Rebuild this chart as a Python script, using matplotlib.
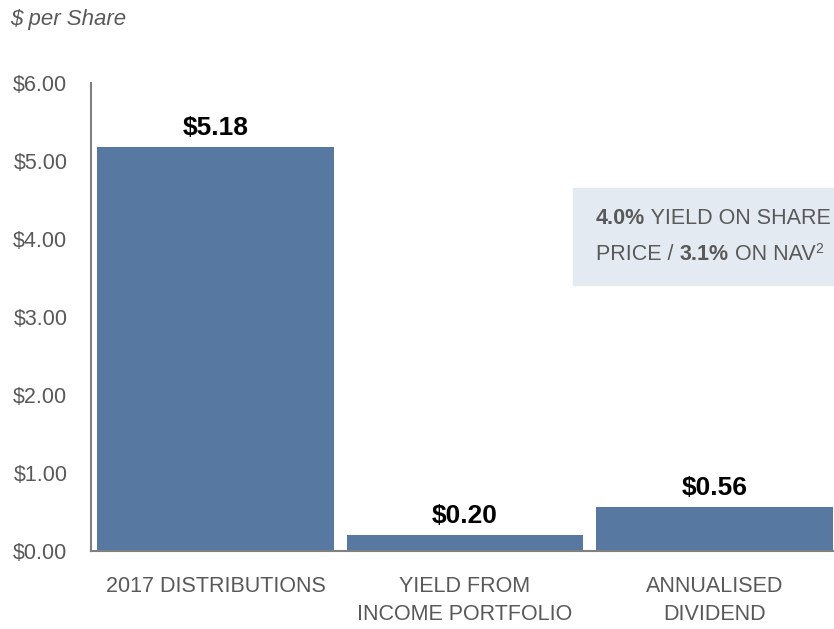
import matplotlib
matplotlib.use("Agg")
import matplotlib.pyplot as plt

plt.rcParams["font.family"] = ["Liberation Sans Narrow", "Liberation Sans", "DejaVu Sans"]

categories = ["2017 DISTRIBUTIONS", "YIELD FROM\nINCOME PORTFOLIO", "ANNUALISED\nDIVIDEND"]
values = [5.18, 0.20, 0.56]
yticks = [0, 1, 2, 3, 4, 5, 6]

BAR = "#5778A1"
GREY = "#595959"

fig = plt.figure(figsize=(8.34, 6.29), dpi=100)
ax = fig.add_axes([91 / 834, 78 / 629, 743 / 834, 468 / 629])

x = range(len(values))
ax.bar(x, values, width=0.95, color=BAR, zorder=2)
for xi, v in zip(x, values):
    ax.text(xi, v + 0.09, f"${v:.2f}", ha="center", va="bottom",
            fontsize=19, fontweight="bold", color="black")

ax.set_xlim(-0.5, 2.48)
ax.set_ylim(0, 6)
ax.set_yticks(yticks)
ax.set_yticklabels([f"${t:.2f}" for t in yticks], fontsize=15.5, color=GREY)
ax.set_xticks(list(x))
ax.set_xticklabels(categories, fontsize=15.5, color=GREY, linespacing=1.45)
ax.tick_params(length=0)
ax.tick_params(axis="y", pad=17)
ax.tick_params(axis="x", pad=18)
for s in ["top", "right"]:
    ax.spines[s].set_visible(False)
for s in ["left", "bottom"]:
    ax.spines[s].set_color("#808080")
    ax.spines[s].set_linewidth(1.5)

fig.text(10 / 834, 1 - 20 / 629, "$ per Share", fontsize=16, style="italic",
         color=GREY, va="center", ha="left")

# callout box
box = plt.Rectangle((573 / 834, 1 - 285 / 629), 261 / 834, 97 / 629,
                    transform=fig.transFigure, color="#E4EAF1",
                    zorder=1, clip_on=False)
ax.add_patch(box)

fs = 15.5
kw = dict(fontsize=fs, color=GREY, va="bottom", annotation_clip=False, zorder=5)
t1 = ax.annotate("4.0%", xy=(596 / 834, 1 - 229 / 629), xycoords="figure fraction",
                 fontweight="bold", **kw)
ax.annotate(" YIELD ON SHARE", xy=(1, 0), xycoords=t1, **kw)
t2 = ax.annotate("PRICE / ", xy=(596 / 834, 1 - 265 / 629), xycoords="figure fraction", **kw)
t3 = ax.annotate("3.1%", xy=(1, 0), xycoords=t2, fontweight="bold", **kw)
t4 = ax.annotate(" ON NAV", xy=(1, 0), xycoords=t3, **kw)
ax.annotate("2", xy=(1, 0.42), xycoords=t4, fontsize=10, color=GREY, va="bottom",
            annotation_clip=False, zorder=5)

fig.savefig("out.png", dpi=100)
